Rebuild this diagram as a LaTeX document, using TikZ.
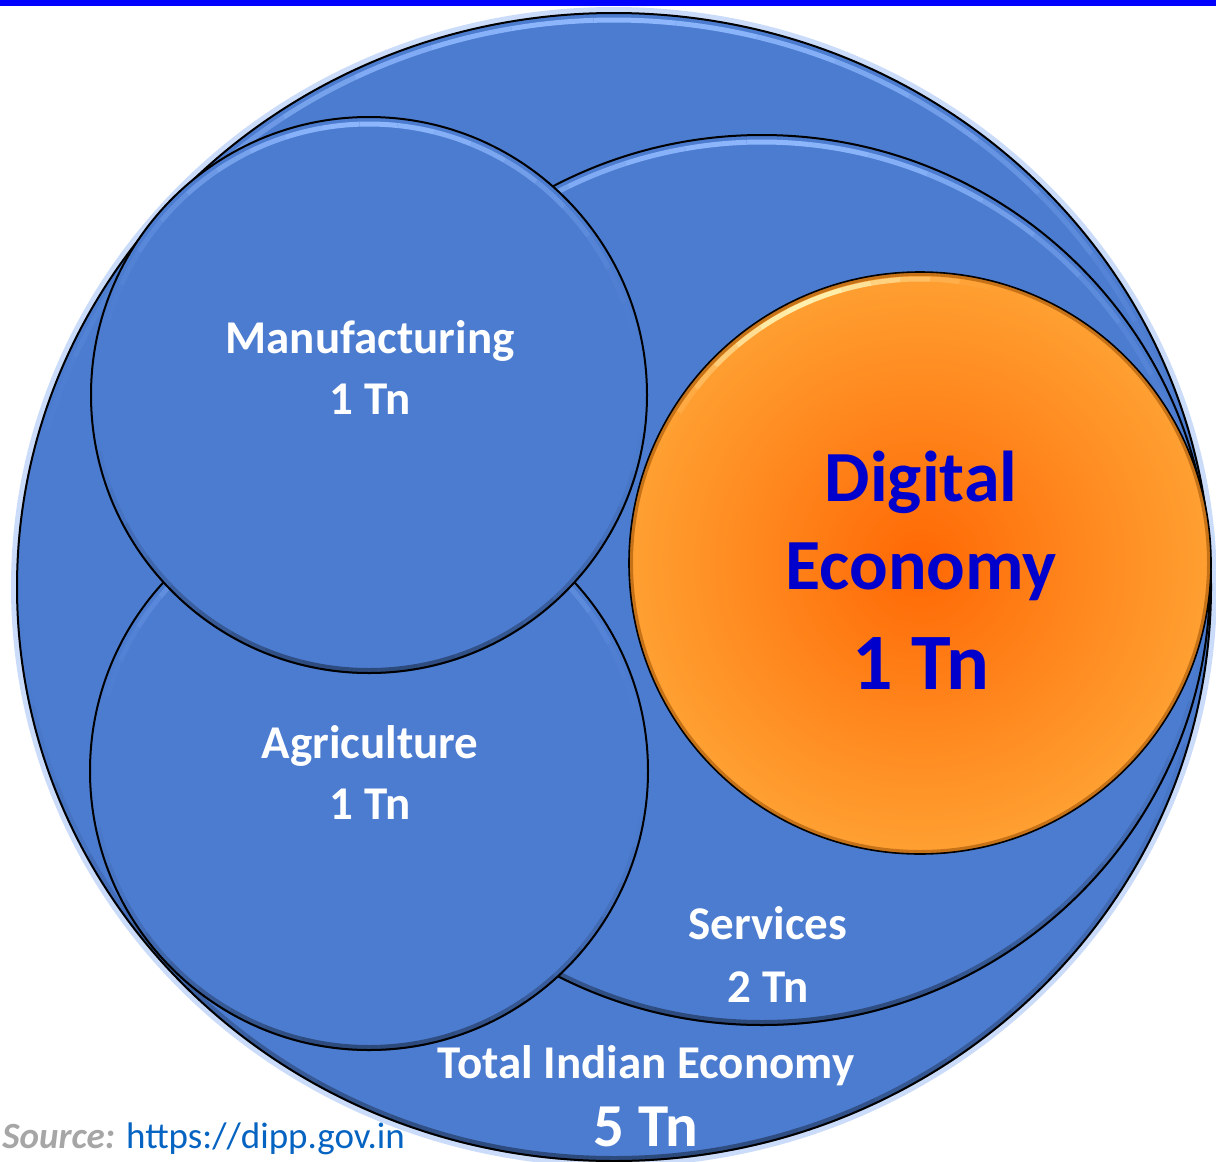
\documentclass[tikz,border=0pt]{standalone}
\usepackage{fontspec}
\setmainfont{Carlito}

\definecolor{topblue}{RGB}{0,0,255}
\definecolor{bubbleblue}{RGB}{76,124,208}
\definecolor{haloblue}{RGB}{160,190,245}
\definecolor{glintblue}{RGB}{145,186,255}
\definecolor{digiorange}{RGB}{255,160,50}
\definecolor{digicore}{RGB}{255,104,4}
\definecolor{digirim}{RGB}{140,70,0}
\definecolor{digiglint}{RGB}{255,240,175}
\definecolor{digiblue}{RGB}{0,0,204}
\definecolor{srcgray}{RGB}{166,166,166}
\definecolor{srclink}{RGB}{5,99,193}

\begin{document}
\begin{tikzpicture}[x=0.5pt, y=-0.5pt,
    bubble/.style={fill=bubbleblue, draw=black, line width=1pt},
    halo/.style={draw=haloblue, line width=6pt, opacity=0.55},
    tag/.style={anchor=base, inner sep=0pt, text=white, font=\bfseries\fontsize{23.5}{28}\selectfont},
    digitag/.style={anchor=base, inner sep=0pt, text=digiblue, font=\bfseries\fontsize{36}{43}\selectfont}]

  \useasboundingbox (0,0) rectangle (1216,1162);
  \clip (0,0) rectangle (1216,1162);

  \draw[halo] (614,587) ellipse [x radius=597, y radius=574];

  % total, services, agriculture, manufacturing -- each with its bevel
  % (y runs downwards, so the top of a shape is 180..360)
  \foreach \cx/\cy/\rx/\ry in {614/587/597/574, 762/580/448/445, 369/771/279/279, 369/395/278/278}{
    \draw[bubble] (\cx,\cy) ellipse [x radius=\rx, y radius=\ry];
    \foreach \a in {180,188,...,352}{
      \pgfmathsetmacro\op{0.95*max(0,-sin(\a+4))^3}
      \draw[glintblue, line width=2.5pt, opacity=\op]
        (\cx,\cy) ++(\a:{\rx-7} and {\ry-7}) arc [start angle=\a, end angle=\a+8, x radius=\rx-7, y radius=\ry-7];
    }
    \foreach \a in {0,8,...,172}{
      \pgfmathsetmacro\op{0.4*max(0,sin(\a+4))^2}
      \draw[black, line width=3pt, opacity=\op]
        (\cx,\cy) ++(\a:{\rx-2} and {\ry-2}) arc [start angle=\a, end angle=\a+8, x radius=\rx-2, y radius=\ry-2];
    }
  }

  % digital economy
  \shade[inner color=digicore, outer color=digiorange] (920,563) circle [radius=291];
  \draw[digirim, line width=2pt, opacity=0.5] (920,563) circle [radius=289];
  \draw[black, line width=0.8pt] (920,563) circle [radius=291];
  \foreach \a in {200,206,...,290}{
    \pgfmathsetmacro\op{max(0,cos(2.2*(\a+3-246)))^2}
    \draw[digiglint, line width=2.5pt, opacity=\op]
      (920,563) ++(\a:284) arc [start angle=\a, end angle=\a+6, radius=284];
  }

  %\draw[dashed, red] (0,587) -- (1216,587);

  % labels
  \node[tag] (manu) at (370,353) {Manufacturing};
  \node[tag] (manuval) at (370,414) {1 Tn};

  \node[tag] (agri) at (370,758) {Agriculture};
  \node[tag] (agrival) at (370,819) {1 Tn};

  \node[tag] (serv) at (768,939) {Services};
  \node[tag] (servval) at (768,1002) {2 Tn};

  \node[tag] (total) at (646,1078) {Total Indian Economy};
  \node[tag, font=\bfseries\fontsize{30.5}{36}\selectfont] (totalval) at (646,1146) {5 Tn};

  \node[digitag] (digi) at (921,501) {Digital};
  \node[digitag] (econ) at (921,589) {Economy};
  \node[digitag, font=\bfseries\fontsize{40}{48}\selectfont] (digival) at (921,689) {1 Tn};

  \node[anchor=base west, inner sep=0pt, font=\fontsize{18.5}{22}\selectfont] (src) at (2,1148)
    {\textcolor{srcgray}{\bfseries\itshape Source:} \textcolor{srclink}{https://dipp.gov.in}};

  % top rule
  \fill[topblue] (0,0) rectangle (1216,6);
\end{tikzpicture}
\end{document}
